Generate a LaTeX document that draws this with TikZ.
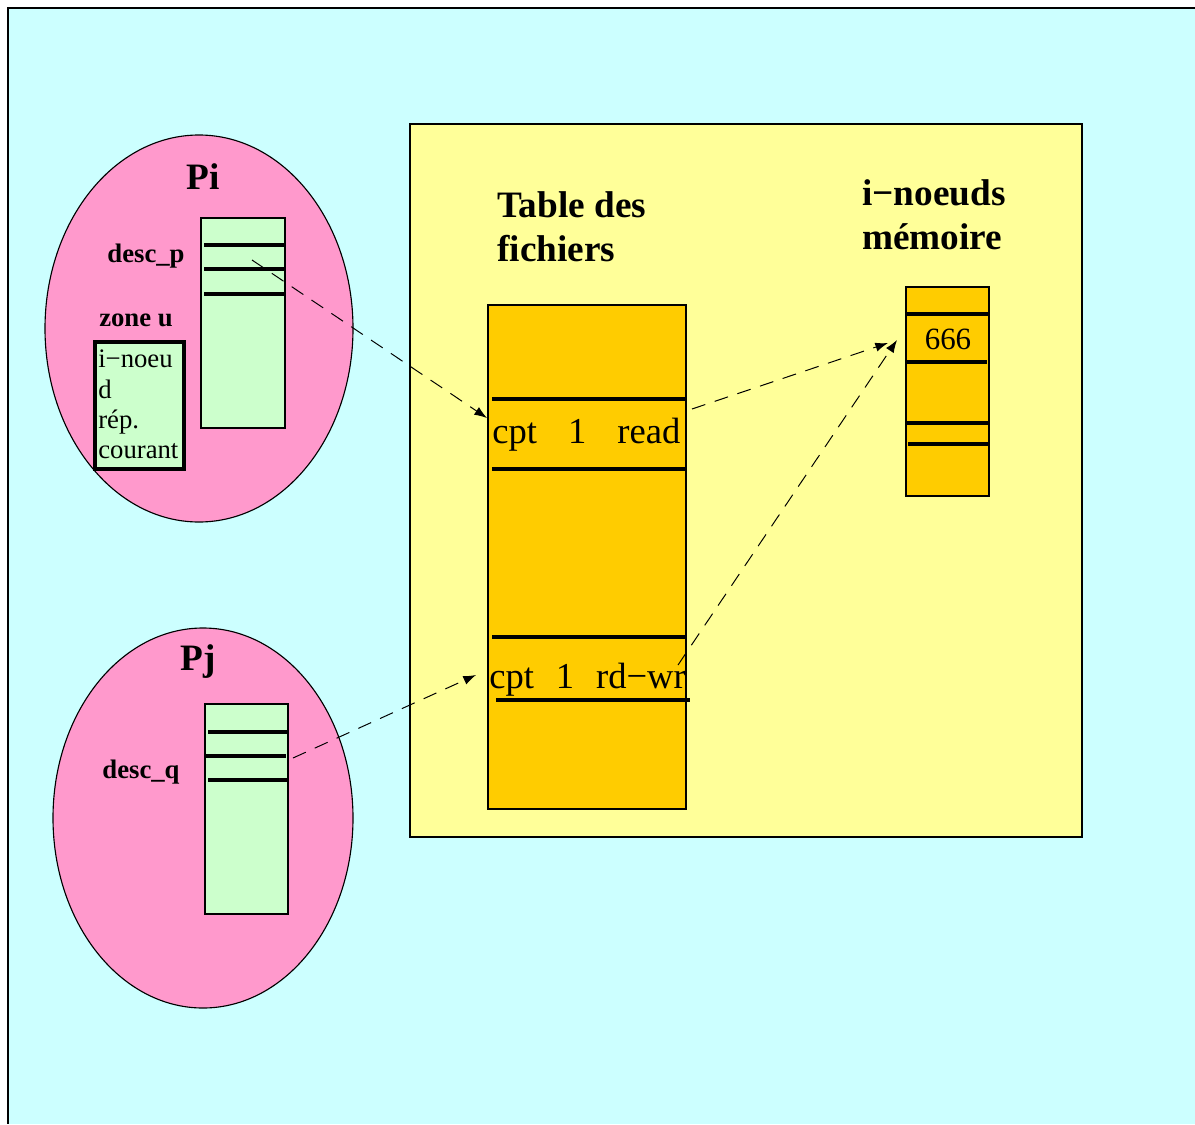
\documentclass[tikz,border=0pt]{standalone}
\usepackage{fontspec}
\setmainfont{Liberation Serif}
\usetikzlibrary{arrows.meta,positioning}

\definecolor{fond}{HTML}{CCFFFF}
\definecolor{noyau}{HTML}{FFFF99}
\definecolor{ocre}{HTML}{FFCC00}
\definecolor{rose}{HTML}{FF99CC}
\definecolor{vert}{HTML}{CCFFCC}

\begin{document}
\begin{tikzpicture}[x=0.025cm,y=-0.025cm,
    titre/.style={font=\fontsize{26.5}{31}\selectfont\bfseries,align=left,inner sep=0pt},
    etiq/.style={font=\fontsize{19}{22}\selectfont\bfseries,inner sep=0pt},
    ligne/.style={font=\fontsize{26}{30}\selectfont,inner sep=0pt},
    sep/.style={line width=2.4pt},
    fleche/.style={-{Latex[length=9pt,width=6.5pt]},dash pattern=on 10pt off 7pt,line width=0.7pt}]
  \useasboundingbox (0,0) rectangle (1195,1124);
  \fill[fond] (8,8) rectangle (1195,1124);
  \draw[line width=1pt] (1195,8) -- (8,8) -- (8,1124);

  % noyau
  \draw[fill=noyau,line width=0.8pt] (410,124) rectangle (1082,837);
  \node[titre,anchor=west] (tf) at (497,227) {Table des\\fichiers};
  \node[titre,anchor=west] (in) at (862,215) {i−noeuds\\mémoire};

  % table des fichiers
  \draw[fill=ocre,line width=1pt] (488,305) rectangle (686,809);
  \draw[sep] (492,399) -- (686,399);
  \draw[sep] (492,469) -- (686,469);
  \draw[sep] (492,637) -- (686,637);
  \draw[sep] (496,700) -- (690,700);
  \node[ligne,anchor=base west] (f1) at (492,443) {cpt\hspace{0.85em}1\hspace{0.85em}read};
  \node[ligne,anchor=base west] (f2) at (489,688) {cpt\hspace{0.6em}1\hspace{0.6em}rd−wr};

  % i-noeuds
  \draw[fill=ocre,line width=1pt] (906,287) rectangle (989,496);
  \draw[sep] (906,314) -- (989,314);
  \draw[sep] (906,362) -- (987,362);
  \draw[sep] (906,423) -- (989,423);
  \draw[sep] (908,444) -- (989,444);
  \node[font=\fontsize{22}{26}\selectfont,inner sep=0pt] (ino) at (948,339) {666};

  % processus Pi
  \draw[fill=rose,line width=0.8pt] (199,328.5) ellipse [x radius=154,y radius=193.5];
  \node[titre] (pi) at (203,177) {Pi};
  \draw[fill=vert,line width=1pt] (201,218) rectangle (285,428);
  \draw[sep] (204,245) -- (285,245);
  \draw[sep] (204,269) -- (285,269);
  \draw[sep] (204,294) -- (285,294);
  \node[etiq] (dp) at (146,256) {desc\_p};
  \node[etiq] (zu) at (136,320) {zone u};
  \draw[fill=vert,line width=2.2pt] (95,342) rectangle (184,469);
  \node[font=\fontsize{19}{21.5}\selectfont,align=left,inner sep=0pt,anchor=north west]
    (rc) at (98,350) {i−noeu\\d\\rép.\\courant};

  % processus Pj
  \draw[fill=rose,line width=0.8pt] (203,818) ellipse [x radius=150,y radius=190];
  \node[titre] (pj) at (198,662) {Pj};
  \draw[fill=vert,line width=1pt] (205,704) rectangle (288,914);
  \draw[sep] (208,732) -- (289,732);
  \draw[sep] (205,756) -- (286,756);
  \draw[sep] (208,780) -- (289,780);
  \node[etiq] (dq) at (141,772) {desc\_q};

  % liens
  \coordinate (p1) at (252,260);
  \coordinate (t1) at (487,418);
  \coordinate (q1) at (293,758);
  \coordinate (t2) at (476,675);
  \coordinate (r1) at (692,409);
  \coordinate (r2) at (678,665);
  \coordinate (n1) at (888,343);
  \coordinate (n2) at (897,340);
  \draw[fleche] (p1) -- (t1);
  \draw[fleche] (q1) -- (t2);
  \draw[fleche] (r1) -- (n1);
  \draw[fleche] (r2) -- (n2);
\end{tikzpicture}
\end{document}
